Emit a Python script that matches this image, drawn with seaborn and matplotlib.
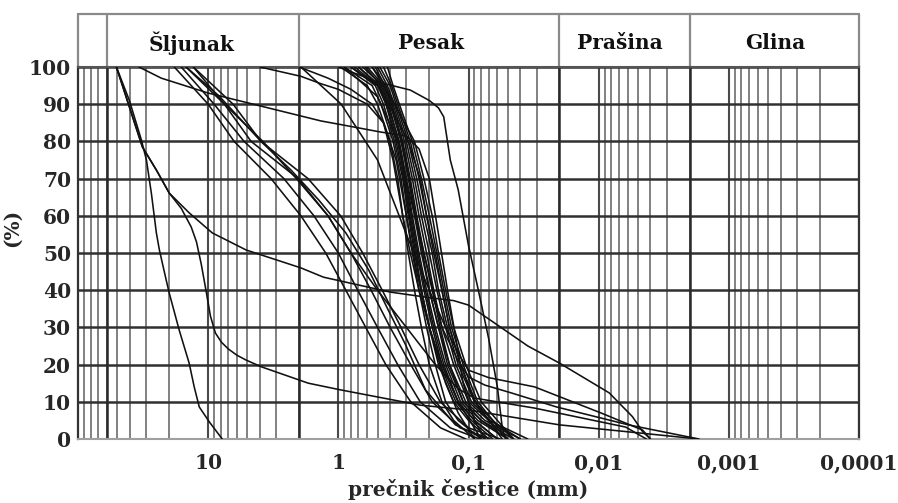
import numpy as np
import pandas as pd
import matplotlib
matplotlib.use("Agg")
import matplotlib.pyplot as plt
import seaborn as sns
from matplotlib.ticker import FixedLocator, LogLocator, NullFormatter, FixedFormatter

# ---------------- data (diameter in mm, percent passing) ----------------
pb = [100, 95, 90, 80, 70, 60, 50, 40, 30, 20, 10, 5, 0]

d_g1 = [50.7, 40.3, 32.6, 29.8, 27.3, 25, 23.7, 21, 19.9, 16.7, 14, 12.8, 11.7, 9.8, 7.8]
p_g1 = [100, 91, 80.4, 75, 66, 55.4, 50.8, 42.7, 39.2, 29.3, 20.4, 14, 8.6, 4.6, 0]

d_g2 = [50.7, 32, 25, 19.9, 14, 9.3, 5.1, 1.94, 1.3, 0.4, 0.2, 0.13, 0.1, 0.062, 0.035, 0.02, 0.0083, 0.0055, 0.0046, 0.004]
p_g2 = [100, 78.5, 72.3, 66.1, 60.8, 55.4, 50.8, 46, 43.5, 39.5, 38, 37.2, 36, 31, 25, 20.4, 12.4, 6, 2, 0]

d_g3 = [50.7, 32, 25, 19.9, 16.1, 13.5, 12.3, 11.3, 10.4, 9.6, 8.8, 7.9, 7.0, 6.0, 5.1, 3.9, 1.7, 0.96, 0.235, 0.1, 0.02, 0.0017]
p_g3 = [100, 78.5, 72.3, 66.1, 62, 57, 53, 47, 40, 33, 28.5, 26, 24.2, 22.5, 21.2, 19.4, 15, 13.2, 9.1, 7.8, 3.8, 0]

d_g4 = [34, 22.9, 10, 1.36, 0.95, 0.47, 0.3, 0.24, 0.2, 0.17, 0.145, 0.125, 0.11, 0.09, 0.075]
p_g4 = [100, 97, 93, 85.5, 84.5, 82.5, 81.5, 78, 70, 55, 40, 27, 15, 5, 0]

d_sa = [4, 1.94, 1.36, 1.0, 0.6, 0.45, 0.36, 0.3, 0.25, 0.2, 0.15, 0.12, 0.09]
p_sa = [100, 97.5, 95.5, 94, 90, 85, 75, 60, 45, 30, 15, 7, 0]

d_s1 = [2, 1.2, 0.8, 0.55, 0.45, 0.38, 0.32, 0.28, 0.24, 0.2, 0.16, 0.12, 0.08]
p_s1 = [100, 97, 94, 90, 85, 75, 60, 50, 40, 30, 20, 10, 0]

pm = [100, 90, 80, 70, 60, 50, 40, 30, 20, 10, 3, 0]
d_m1 = [18.2, 10, 6.32, 3.29, 1.94, 1.25, 0.876, 0.616, 0.432, 0.278, 0.164, 0.105]
d_m2 = [16.1, 9.0, 5.3, 2.62, 1.54, 1.0, 0.71, 0.50, 0.35, 0.235, 0.138, 0.082]
d_m3 = [14.8, 7.5, 4.68, 2.04, 1.2, 0.80, 0.56, 0.40, 0.278, 0.19, 0.116, 0.068]
d_m4 = [13.0, 6.43, 3.93, 1.71, 0.96, 0.65, 0.46, 0.33, 0.24, 0.165, 0.1, 0.057]
d_m5 = [14.75, 8.24, 3.93, 2.31, 1.41, 0.876, 0.584, 0.432, 0.304, 0.214, 0.126, 0.074]
p_m5 = [100, 92.2, 80, 72.3, 64.2, 55.4, 45.4, 36, 25.3, 13.2, 3.8, 0]

d_b1 = [0.96, 0.6, 0.5, 0.4, 0.35, 0.32, 0.29, 0.26, 0.23, 0.2, 0.16, 0.13, 0.09]
d_b2 = [0.9, 0.55, 0.47, 0.38, 0.33, 0.3, 0.27, 0.24, 0.21, 0.18, 0.15, 0.12, 0.08]
d_b3 = [0.8, 0.52, 0.45, 0.37, 0.32, 0.29, 0.26, 0.23, 0.2, 0.17, 0.13, 0.1, 0.07]
d_b4 = [0.75, 0.5, 0.43, 0.35, 0.31, 0.28, 0.25, 0.22, 0.19, 0.16, 0.12, 0.09, 0.06]
d_b5 = [0.7, 0.48, 0.42, 0.34, 0.3, 0.27, 0.24, 0.21, 0.18, 0.15, 0.115, 0.085, 0.05]
d_b6 = [0.65, 0.46, 0.4, 0.33, 0.29, 0.26, 0.23, 0.2, 0.17, 0.14, 0.11, 0.08, 0.045]
d_b7 = [0.6, 0.45, 0.39, 0.32, 0.28, 0.25, 0.22, 0.19, 0.165, 0.14, 0.105, 0.075, 0.04]
d_b8 = [0.55, 0.43, 0.38, 0.31, 0.27, 0.24, 0.21, 0.185, 0.16, 0.13, 0.1, 0.07, 0.035]
d_b9 = [0.5, 0.42, 0.37, 0.3, 0.26, 0.23, 0.2, 0.175, 0.15, 0.125, 0.095, 0.068, 0.04]
d_b10 = [0.48, 0.4, 0.36, 0.29, 0.25, 0.22, 0.19, 0.17, 0.145, 0.12, 0.09, 0.065, 0.045]
d_b11 = [0.45, 0.39, 0.35, 0.28, 0.24, 0.21, 0.18, 0.16, 0.14, 0.115, 0.088, 0.07, 0.05]
d_b12 = [0.42, 0.38, 0.34, 0.27, 0.23, 0.2, 0.175, 0.155, 0.135, 0.11, 0.085, 0.065, 0.05]
d_b13 = [0.55, 0.45, 0.37, 0.26, 0.22, 0.19, 0.17, 0.15, 0.13, 0.105, 0.08, 0.06, 0.045]
d_b14 = [0.8, 0.5, 0.41, 0.29, 0.235, 0.21, 0.185, 0.16, 0.14, 0.115, 0.09, 0.07, 0.055]
d_b15 = [0.62, 0.47, 0.41, 0.345, 0.305, 0.275, 0.245, 0.215, 0.185, 0.155, 0.12, 0.09, 0.06]
d_b16 = [0.52, 0.44, 0.39, 0.325, 0.285, 0.255, 0.225, 0.2, 0.17, 0.145, 0.11, 0.08, 0.05]
d_b17 = [0.7, 0.49, 0.43, 0.36, 0.315, 0.285, 0.255, 0.23, 0.2, 0.165, 0.125, 0.095, 0.065]

d_t1 = [1.94, 0.95, 0.5, 0.3, 0.2, 0.15, 0.12, 0.1, 0.07, 0.031, 0.0096, 0.0046, 0.004]
p_t1 = [100, 90, 75, 55, 40, 30, 23, 18.5, 16.5, 14, 7, 2.4, 0]
d_t2 = [0.9, 0.5, 0.35, 0.28, 0.22, 0.16, 0.12, 0.1, 0.075, 0.047, 0.021, 0.0059, 0.0017]
p_t2 = [100, 92, 80, 65, 50, 30, 21, 16.7, 14.5, 12.4, 8.6, 3.8, 0]
d_t3 = [13, 7.5, 3.8, 2.1, 1.2, 0.8, 0.5, 0.3, 0.18, 0.12, 0.09, 0.031, 0.0062, 0.0043]
p_t3 = [100, 90, 80, 70, 60, 50, 40, 30, 20, 13.5, 11, 8.3, 3.2, 0]

d_k = [1.0, 0.5, 0.28, 0.2, 0.17, 0.155, 0.138, 0.12, 0.1, 0.084, 0.07, 0.06, 0.055, 0.052]
p_k = [100, 96, 93.8, 91, 89, 86.6, 75, 67, 52, 40, 27, 14, 3, 0]

# soil classes (header) and boundaries
class_names = ["Šljunak", "Pesak", "Prašina", "Glina"]
class_label_pos = [13.5, 0.195, 0.0069, 0.00044]
class_bounds = [60, 2, 0.02, 0.002]

x_ticks = [10, 1, 0.1, 0.01, 0.001, 0.0001]
x_tick_labels = ["10", "1", "0,1", "0,01", "0,001", "0,0001"]
y_ticks = [0, 10, 20, 30, 40, 50, 60, 70, 80, 90, 100]

curve_list = [
    (d_g1, p_g1), (d_g2, p_g2), (d_g3, p_g3), (d_g4, p_g4), (d_sa, p_sa), (d_s1, p_s1),
    (d_m1, pm), (d_m2, pm), (d_m3, pm), (d_m4, pm), (d_m5, p_m5),
    (d_b1, pb), (d_b2, pb), (d_b3, pb), (d_b4, pb), (d_b5, pb), (d_b6, pb), (d_b7, pb),
    (d_b8, pb), (d_b9, pb), (d_b10, pb), (d_b11, pb), (d_b12, pb), (d_b13, pb), (d_b14, pb),
    (d_b15, pb), (d_b16, pb), (d_b17, pb),
    (d_t1, p_t1), (d_t2, p_t2), (d_t3, p_t3), (d_k, p_k),
]
frames = []
for i, (d, p) in enumerate(curve_list):
    frames.append(pd.DataFrame({"curve": i, "d": d, "p": p}))
df = pd.concat(frames, ignore_index=True)

# ---------------- figure ----------------
sns.set_theme(style="white")
plt.rcParams["font.family"] = ["DejaVu Serif"]
plt.rcParams["font.weight"] = "bold"

W, H = 898, 503
fig = plt.figure(figsize=(W / 100, H / 100), dpi=100)
L, R, T, B = 78, 859, 67, 439
ax = fig.add_axes([L / W, (H - B) / H, (R - L) / W, (B - T) / H])

sns.lineplot(data=df, x="d", y="p", units="curve", estimator=None, sort=False,
             color="#111111", lw=1.15, ax=ax, legend=False, zorder=5)

ax.set_xscale("log")
ax.set_xlim(100, 1e-4)
ax.set_ylim(0, 100)

ax.xaxis.set_major_locator(FixedLocator(x_ticks))
ax.xaxis.set_major_formatter(FixedFormatter(x_tick_labels))
ax.xaxis.set_minor_locator(LogLocator(base=10, subs=range(2, 10), numticks=20))
ax.xaxis.set_minor_formatter(NullFormatter())
ax.set_yticks(y_ticks)
ax.set_yticklabels([str(v) for v in y_ticks])

ax.grid(which="major", axis="x", color="#4a4a4a", lw=1.5, zorder=1)
ax.grid(which="minor", axis="x", color="#7c7c7c", lw=1.35, zorder=1)
ax.grid(which="major", axis="y", color="#303030", lw=1.8, zorder=2)
for b in class_bounds:
    ax.axvline(b, color="#2a2a2a", lw=1.8, zorder=2)

ax.tick_params(axis="both", which="both", length=0, labelsize=14.5)
ax.tick_params(axis="x", pad=10)
ax.tick_params(axis="y", pad=5)
for lab in ax.get_xticklabels() + ax.get_yticklabels():
    lab.set_fontweight("bold")

for side in ["left", "right"]:
    ax.spines[side].set_color("#333333")
    ax.spines[side].set_linewidth(1.6)
ax.spines["bottom"].set_color("#a0a0a0")
ax.spines["bottom"].set_linewidth(1.5)
ax.spines["top"].set_color("#555555")
ax.spines["top"].set_linewidth(1.5)

ax.set_xlabel("prečnik čestice (mm)", fontsize=14.5, fontweight="bold")
ax.xaxis.set_label_coords(0.5, -(479 - B) / (B - T))
ax.set_ylabel("(%)", fontsize=14.5, fontweight="bold")
ax.yaxis.set_label_coords(-(78 - 22) / (R - L), (B - 228) / (B - T))

# header box with soil classes
trans = ax.get_xaxis_transform()
top_y = 1 + (T - 14) / (B - T)
hdr_col = "#8a8a8a"
ax.plot([100, 1e-4], [top_y, top_y], transform=trans, color=hdr_col, lw=1.6, clip_on=False)
for xv in [100] + class_bounds + [1e-4]:
    ax.plot([xv, xv], [1, top_y], transform=trans, color=hdr_col, lw=1.6, clip_on=False)
text_y = (B - 43) / (B - T)
for name, xp in zip(class_names, class_label_pos):
    ax.text(xp, text_y, name, transform=trans, ha="center", va="center",
            fontsize=14.5, fontweight="bold", color="#111111")

fig.savefig("out.png", dpi=100, facecolor="white")
